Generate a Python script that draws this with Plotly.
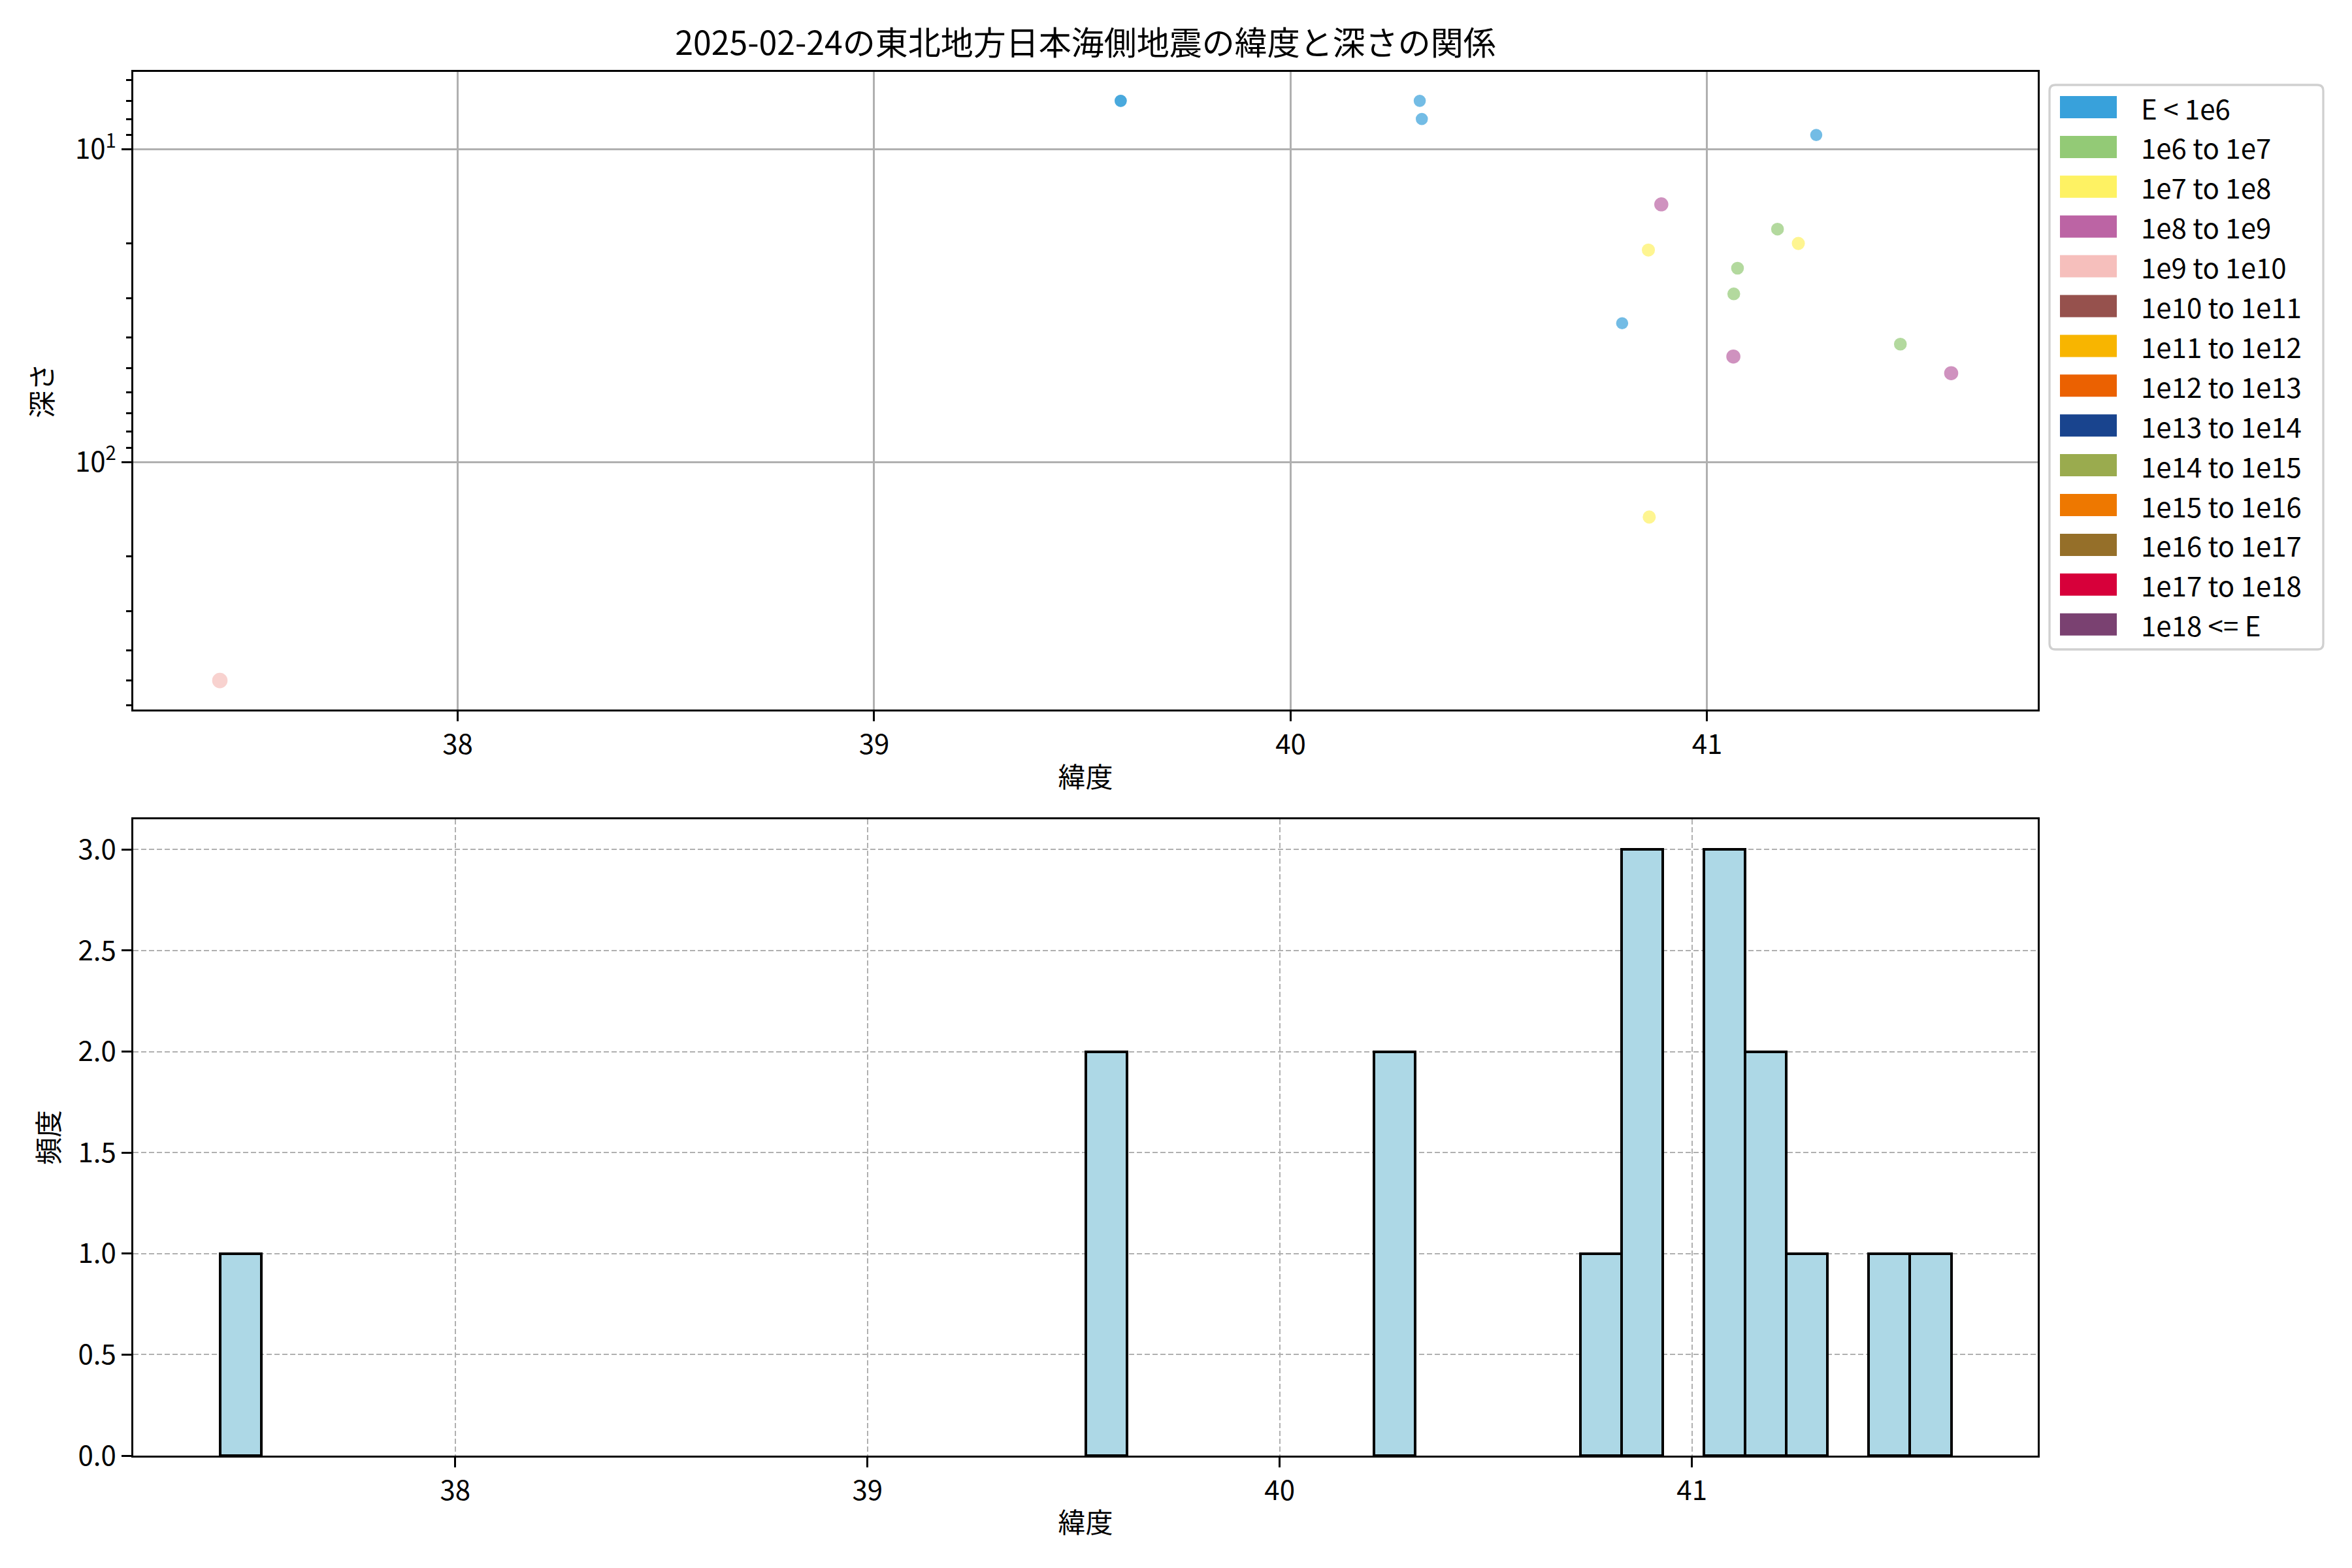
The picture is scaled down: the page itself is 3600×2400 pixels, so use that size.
import math
import plotly.graph_objects as go

# ---------------- data ----------------
TITLE = "2025-02-24の東北地方日本海側地震の緯度と深さの関係"
X_LABEL = "緯度"
Y_LABEL_TOP = "深さ"
Y_LABEL_BOTTOM = "頻度"

ENERGY_CLASSES = [
    "E < 1e6", "1e6 to 1e7", "1e7 to 1e8", "1e8 to 1e9", "1e9 to 1e10",
    "1e10 to 1e11", "1e11 to 1e12", "1e12 to 1e13", "1e13 to 1e14",
    "1e14 to 1e15", "1e15 to 1e16", "1e16 to 1e17", "1e17 to 1e18", "1e18 <= E",
]
CLASS_COLORS = [
    "#38a1db", "#93ca76", "#fef263", "#bc64a4", "#f6bfbc",
    "#96514d", "#f8b500", "#eb6101", "#19448e",
    "#9aab4e", "#ee7800", "#956f29", "#d7003a", "#7a4171",
]

LATITUDE = [37.429, 39.592, 39.592, 40.310, 40.315, 41.262, 40.890, 41.169, 41.219,
            40.859, 41.073, 41.064, 40.796, 41.464, 41.063, 41.586, 40.861]
DEPTH = [500, 7, 7, 7, 8, 9, 15, 18, 20,
         21, 24, 29, 36, 42, 46, 52, 150]
ENERGY = ["1e9 to 1e10", "E < 1e6", "E < 1e6", "E < 1e6", "E < 1e6", "E < 1e6",
          "1e8 to 1e9", "1e6 to 1e7", "1e7 to 1e8", "1e7 to 1e8", "1e6 to 1e7",
          "1e6 to 1e7", "E < 1e6", "1e6 to 1e7", "1e8 to 1e9", "1e8 to 1e9",
          "1e7 to 1e8"]

X_TICKS = [38, 39, 40, 41]
Y_TICKS_TOP = [10, 100]
Y_TICKTEXT_TOP = ["10<sup>1</sup>", "10<sup>2</sup>"]
Y_MINOR_TOP = [6, 7, 8, 9, 20, 30, 40, 50, 60, 70, 80, 90, 200, 300, 400, 500, 600]
Y_TICKS_BOTTOM = [0.0, 0.5, 1.0, 1.5, 2.0, 2.5, 3.0]
BIN_SIZE = 0.1

# ---------------- styles ----------------
OFF = 8                      # page body margin added by the browser
W, H = 3600 - 2 * OFF, 2400 - 2 * OFF
L, R, T, B = 204 - OFF, 3119 - OFF, 110 - OFF, 2228 - OFF
FONT = "Noto Sans CJK JP"
FS = 42
CLASS_MARKER_SIZE = [17, 18, 18.5, 20, 22, 23, 24, 25, 26, 27, 28, 29, 30, 31]


def px_x(p):
    return (p - OFF - L) / (R - L)


def px_y(p):
    return 1 - (p - OFF - T) / (B - T)


fig = go.Figure()

for ci, cname in enumerate(ENERGY_CLASSES):
    xs = [la for la, e in zip(LATITUDE, ENERGY) if e == cname]
    ys = [d for d, e in zip(DEPTH, ENERGY) if e == cname]
    if not xs:
        continue
    fig.add_trace(go.Scatter(
        x=xs, y=ys, mode="markers", name=cname, showlegend=False,
        xaxis="x", yaxis="y",
        marker=dict(color=CLASS_COLORS[ci], size=CLASS_MARKER_SIZE[ci], opacity=0.7,
                    line=dict(color=CLASS_COLORS[ci], width=1.6)),
    ))

lat_min, lat_max = min(LATITUDE), max(LATITUDE)
span = lat_max - lat_min
n_bins = math.ceil(span / BIN_SIZE)
bin_end = lat_min + n_bins * BIN_SIZE
hspan = bin_end - lat_min

fig.add_trace(go.Histogram(
    x=LATITUDE, xaxis="x2", yaxis="y2", showlegend=False,
    xbins=dict(start=lat_min, end=bin_end, size=BIN_SIZE),
    marker=dict(color="#add8e6", line=dict(color="black", width=4)),
))

tickfont = dict(family=FONT, size=FS, color="black")
titlefont = dict(family=FONT, size=FS, color="black")

axis_common = dict(
    showline=True, linecolor="black", linewidth=3.3, mirror=True,
    ticks="outside", ticklen=14.6, tickwidth=3.3, tickcolor="black",
    tickfont=tickfont, zeroline=False,
)

top_dom_bottom = px_y(1086)
bot_dom_top = px_y(1254)

d_lo, d_hi = math.log10(min(DEPTH)), math.log10(max(DEPTH))
dspan = d_hi - d_lo

fig.update_layout(
    width=W, height=H,
    margin=dict(l=L, r=W - R, t=T, b=H - B),
    paper_bgcolor="white", plot_bgcolor="white",
    bargap=0,
    title=dict(text=TITLE, font=dict(family=FONT, size=50, color="black"),
               x=0.5, xref="paper", xanchor="center",
               y=1 - (66 - OFF) / H, yref="container", yanchor="middle"),
    xaxis=dict(axis_common, domain=[0, 1], anchor="y",
               range=[lat_min - 0.05 * span, lat_max + 0.05 * span],
               tickvals=X_TICKS,
               showgrid=True, gridcolor="#b0b0b0", gridwidth=3.3,
               title=dict(text=X_LABEL, font=titlefont, standoff=11)),
    yaxis=dict(axis_common, domain=[top_dom_bottom, 1], anchor="x", type="log",
               range=[d_hi + 0.05 * dspan, d_lo - 0.05 * dspan],
               tickvals=Y_TICKS_TOP, ticktext=Y_TICKTEXT_TOP,
               minor=dict(tickvals=Y_MINOR_TOP, ticks="outside", ticklen=8.3,
                          tickwidth=2.5, tickcolor="black", showgrid=False),
               showgrid=True, gridcolor="#b0b0b0", gridwidth=3.3,
               title=dict(text=Y_LABEL_TOP, font=titlefont, standoff=22)),
    xaxis2=dict(axis_common, domain=[0, 1], anchor="y2",
                range=[lat_min - 0.05 * hspan, bin_end + 0.05 * hspan],
                tickvals=X_TICKS,
                showgrid=True, gridcolor="#b0b0b0", gridwidth=2, griddash="8px,4px",
                title=dict(text=X_LABEL, font=titlefont, standoff=10)),
    yaxis2=dict(axis_common, domain=[0, bot_dom_top], anchor="x2",
                range=[0, 3.15], tickvals=Y_TICKS_BOTTOM, tickformat=".1f",
                showgrid=True, gridcolor="#b0b0b0", gridwidth=2, griddash="8px,4px",
                title=dict(text=Y_LABEL_BOTTOM, font=titlefont, standoff=16)),
)

# ---------------- legend (drawn in paper space, reference pixel units) ----------------
LG_L, LG_R, LG_T, LG_B, RAD = 3137, 3556, 130, 994, 9
path = (f"M {px_x(LG_L + RAD)},{px_y(LG_T)} L {px_x(LG_R - RAD)},{px_y(LG_T)} "
        f"Q {px_x(LG_R)},{px_y(LG_T)} {px_x(LG_R)},{px_y(LG_T + RAD)} "
        f"L {px_x(LG_R)},{px_y(LG_B - RAD)} Q {px_x(LG_R)},{px_y(LG_B)} {px_x(LG_R - RAD)},{px_y(LG_B)} "
        f"L {px_x(LG_L + RAD)},{px_y(LG_B)} Q {px_x(LG_L)},{px_y(LG_B)} {px_x(LG_L)},{px_y(LG_B - RAD)} "
        f"L {px_x(LG_L)},{px_y(LG_T + RAD)} Q {px_x(LG_L)},{px_y(LG_T)} {px_x(LG_L + RAD)},{px_y(LG_T)} Z")
shapes = [dict(type="path", path=path, xref="paper", yref="paper",
               line=dict(color="#d0d0d0", width=3.3), fillcolor="rgba(255,255,255,0.8)")]
annotations = []
for i, (name, col) in enumerate(zip(ENERGY_CLASSES, CLASS_COLORS)):
    cy = 164 + 60.9 * i
    shapes.append(dict(type="rect", xref="paper", yref="paper",
                       x0=px_x(3153), x1=px_x(3240), y0=px_y(cy - 17), y1=px_y(cy + 17),
                       fillcolor=col, line=dict(width=0)))
    annotations.append(dict(text=name.replace("<", "&lt;"), xref="paper", yref="paper",
                            x=px_x(3275), y=px_y(cy), xanchor="left", yanchor="middle",
                            showarrow=False, font=dict(family=FONT, size=FS, color="black")))
fig.update_layout(shapes=shapes, annotations=annotations)

fig.write_html("out.html")
